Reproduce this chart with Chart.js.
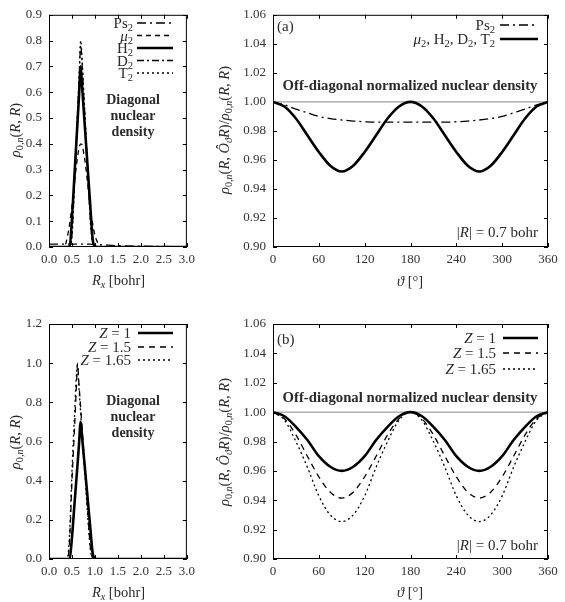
<!DOCTYPE html>
<html>
<head>
<meta charset="utf-8">
<script src="https://cdn.jsdelivr.net/npm/chart.js@4.4.0/dist/chart.umd.min.js"></script>
<style>
  body { margin: 0; background: #fff; }
  #page { position: relative; width: 565px; height: 602px; overflow: hidden; }
  #page canvas { position: absolute; }
  .txt { position: absolute; white-space: nowrap; line-height: 1; color: #2a2a2a;
         font-family: "Liberation Serif", serif; font-size: 15px; }
  .title { font-size: 14.5px; }
  .bold { font-weight: bold; text-align: center; line-height: 16px; font-size: 14px; }
  .wide { font-size: 14.75px; }
  sub { font-size: 0.7em; vertical-align: -0.3em; line-height: 0; }
</style>
</head>
<body>
<div id="page">
  <canvas id="diagA" width="200" height="300" style="left:0;top:0"></canvas>
  <canvas id="offA" width="365" height="300" style="left:200px;top:0"></canvas>
  <canvas id="diagB" width="200" height="302" style="left:0;top:300px"></canvas>
  <canvas id="offB" width="365" height="302" style="left:200px;top:300px"></canvas>
</div>
<script>
// --- diagonal density, isotopes (top left) ---
const rxA = [0, 0.1, 0.2, 0.3, 0.35, 0.4, 0.45, 0.5, 0.55, 0.6, 0.65, 0.69, 0.72, 0.75, 0.8, 0.85, 0.9, 0.95, 1.0, 1.05, 1.1, 1.2, 1.5, 2.0, 2.5, 3.0];
const diagPs2 = [0.011, 0.011, 0.011, 0.011, 0.011, 0.011, 0.011, 0.011, 0.011, 0.011, 0.011, 0.011, 0.011, 0.011, 0.011, 0.011, 0.011, 0.010, 0.010, 0.009, 0.009, 0.008, 0.005, 0.003, 0.002, 0.001];
const diagMu2 = [0, 0, 0, 0, 0.005, 0.04, 0.09, 0.16, 0.24, 0.32, 0.38, 0.40, 0.395, 0.37, 0.31, 0.23, 0.15, 0.09, 0.045, 0.02, 0.005, 0, 0, 0, 0, 0];
const diagH2 = [0, 0, 0, 0, 0, 0, 0.003, 0.11, 0.266, 0.42, 0.576, 0.70, 0.622, 0.545, 0.415, 0.285, 0.155, 0.03, 0.003, 0, 0, 0, 0, 0, 0, 0];
const diagD2 = [0, 0, 0, 0, 0, 0, 0, 0.05, 0.23, 0.43, 0.62, 0.78, 0.71, 0.61, 0.44, 0.27, 0.11, 0.02, 0, 0, 0, 0, 0, 0, 0, 0];
const diagT2 = [0, 0, 0, 0, 0, 0, 0, 0.04, 0.23, 0.44, 0.64, 0.80, 0.73, 0.62, 0.45, 0.27, 0.10, 0.015, 0, 0, 0, 0, 0, 0, 0, 0];

// --- diagonal density, charge Z (bottom left) ---
const rxB = [0, 0.1, 0.2, 0.3, 0.4, 0.45, 0.5, 0.55, 0.6, 0.62, 0.65, 0.69, 0.72, 0.75, 0.8, 0.85, 0.9, 0.95, 1.0, 1.05, 1.1, 1.5, 2.0, 2.5, 3.0];
const diagZ1 = [0, 0, 0, 0, 0, 0.003, 0.11, 0.266, 0.42, 0.48, 0.576, 0.70, 0.622, 0.545, 0.415, 0.285, 0.155, 0.03, 0.003, 0, 0, 0, 0, 0, 0];
const diagZ15 = [0, 0, 0, 0, 0, 0.10, 0.40, 0.64, 0.90, 1.00, 0.90, 0.77, 0.67, 0.57, 0.40, 0.22, 0.06, 0.005, 0, 0, 0, 0, 0, 0, 0];
const diagZ165 = [0, 0, 0, 0, 0.005, 0.14, 0.45, 0.71, 0.95, 0.99, 0.88, 0.74, 0.64, 0.54, 0.37, 0.19, 0.05, 0.003, 0, 0, 0, 0, 0, 0, 0];

// --- off-diagonal normalized density vs angle ---
const thetaDeg = [0, 15, 30, 45, 60, 75, 90, 105, 120, 135, 150, 165, 180, 195, 210, 225, 240, 255, 270, 285, 300, 315, 330, 345, 360];
const offPs2 = [1.000, 0.998, 0.995, 0.9925, 0.990, 0.9885, 0.9875, 0.9868, 0.9863, 0.986, 0.986, 0.986, 0.986, 0.986, 0.986, 0.986, 0.9863, 0.9868, 0.9875, 0.9885, 0.990, 0.9925, 0.995, 0.998, 1.000];
const offHeavy = [1.000, 0.9968, 0.9885, 0.977, 0.9655, 0.956, 0.952, 0.956, 0.9655, 0.977, 0.9885, 0.9968, 1.000, 0.9968, 0.9885, 0.977, 0.9655, 0.956, 0.952, 0.956, 0.9655, 0.977, 0.9885, 0.9968, 1.000];
const offZ1 = [1.000, 0.9972, 0.990, 0.981, 0.970, 0.9628, 0.960, 0.9628, 0.970, 0.981, 0.990, 0.9972, 1.000, 0.9972, 0.990, 0.981, 0.970, 0.9628, 0.960, 0.9628, 0.970, 0.981, 0.990, 0.9972, 1.000];
const offZ15 = [1.000, 0.9955, 0.9845, 0.970, 0.956, 0.9455, 0.9415, 0.9455, 0.956, 0.970, 0.9845, 0.9955, 1.000, 0.9955, 0.9845, 0.970, 0.956, 0.9455, 0.9415, 0.9455, 0.956, 0.970, 0.9845, 0.9955, 1.000];
const offZ165 = [1.000, 0.9945, 0.980, 0.9625, 0.943, 0.930, 0.9255, 0.930, 0.943, 0.9625, 0.980, 0.9945, 1.000, 0.9945, 0.980, 0.9625, 0.943, 0.930, 0.9255, 0.930, 0.943, 0.9625, 0.980, 0.9945, 1.000];
const refTheta = [0, 360];
const refOne = [1, 1];

// tick labels
const xTicksR = [0, 0.5, 1.0, 1.5, 2.0, 2.5, 3.0];
const yTicksDiagA = [0, 0.1, 0.2, 0.3, 0.4, 0.5, 0.6, 0.7, 0.8, 0.9];
const yTicksDiagB = [0, 0.2, 0.4, 0.6, 0.8, 1.0, 1.2];
const xTicksTheta = [0, 60, 120, 180, 240, 300, 360];
const yTicksOff = [0.90, 0.92, 0.94, 0.96, 0.98, 1.00, 1.02, 1.04, 1.06];

const FONT = "'Liberation Serif', serif";

function pts(xs, ys) {
  return xs.map((x, i) => ({ x: x, y: ys[i] }));
}

function line(xs, ys, width, dash, color) {
  return {
    data: pts(xs, ys),
    borderColor: color || '#000',
    borderWidth: width,
    borderDash: dash || [],
    pointRadius: 0,
    fill: false,
    cubicInterpolationMode: 'monotone'
  };
}

// frame, inward ticks and legend line samples
const panelDeco = {
  id: 'panelDeco',
  afterDatasetsDraw(chart, args, opts) {
    const { ctx, chartArea: a, scales } = chart;
    ctx.save();
    ctx.strokeStyle = '#000';
    ctx.lineWidth = 1;
    ctx.setLineDash([]);
    ctx.strokeRect(a.left + 0.5, a.top + 0.5, a.right - a.left - 1, a.bottom - a.top - 1);
    ctx.beginPath();
    scales.y.ticks.forEach(t => {
      const y = Math.round(scales.y.getPixelForValue(t.value)) + 0.5;
      ctx.moveTo(a.left, y); ctx.lineTo(a.left + 4, y);
      ctx.moveTo(a.right, y); ctx.lineTo(a.right - 4, y);
    });
    scales.x.ticks.forEach(t => {
      const x = Math.round(scales.x.getPixelForValue(t.value)) + 0.5;
      ctx.moveTo(x, a.bottom); ctx.lineTo(x, a.bottom - 4);
      ctx.moveTo(x, a.top); ctx.lineTo(x, a.top + 4);
    });
    ctx.stroke();

    (opts.samples || []).forEach(s => {
      const ds = chart.data.datasets[s.index];
      ctx.strokeStyle = ds.borderColor;
      ctx.lineWidth = ds.borderWidth;
      ctx.setLineDash(ds.borderDash || []);
      ctx.beginPath();
      ctx.moveTo(s.x0, s.y);
      ctx.lineTo(s.x1, s.y);
      ctx.stroke();
    });
    ctx.restore();
  }
};

function makePanel(id, datasets, p) {
  new Chart(document.getElementById(id), {
    type: 'line',
    data: { datasets: datasets },
    plugins: [panelDeco],
    options: {
      responsive: false,
      animation: false,
      layout: { padding: { top: p.top, right: p.right, left: 0, bottom: 0 } },
      plugins: {
        legend: { display: false },
        tooltip: { enabled: false },
        panelDeco: { samples: p.samples }
      },
      scales: {
        x: {
          type: 'linear',
          min: p.xTicks[0],
          max: p.xTicks[p.xTicks.length - 1],
          afterBuildTicks: s => { s.ticks = p.xTicks.map(v => ({ value: v })); },
          afterFit: s => { s.height = p.xHeight; },
          grid: { display: false, drawTicks: false },
          border: { display: false },
          ticks: {
            padding: 5,
            color: '#333',
            font: { family: FONT, size: 13 },
            maxRotation: 0,
            callback: v => v.toFixed(p.xDigits)
          }
        },
        y: {
          type: 'linear',
          min: p.yTicks[0],
          max: p.yTicks[p.yTicks.length - 1],
          afterBuildTicks: s => { s.ticks = p.yTicks.map(v => ({ value: v })); },
          afterFit: s => { s.width = p.yWidth; },
          grid: { display: false, drawTicks: false },
          border: { display: false },
          ticks: {
            padding: 7,
            color: '#333',
            font: { family: FONT, size: 13 },
            callback: v => v.toFixed(p.yDigits)
          }
        }
      }
    }
  });
}

makePanel('diagA', [
  line(rxA, diagH2, 2.6),
  line(rxA, diagPs2, 1.3, [9, 4, 2, 4]),
  line(rxA, diagMu2, 1.3, [5, 4]),
  line(rxA, diagD2, 1.3, [7, 3, 2, 3]),
  line(rxA, diagT2, 1.3, [2, 3])
], {
  top: 12, right: 12, yWidth: 49, xHeight: 53,
  xTicks: xTicksR, yTicks: yTicksDiagA, xDigits: 1, yDigits: 1,
  samples: [
    { index: 1, x0: 137, x1: 173, y: 23 },
    { index: 2, x0: 137, x1: 173, y: 35.5 },
    { index: 0, x0: 137, x1: 173, y: 48 },
    { index: 3, x0: 137, x1: 173, y: 60.5 },
    { index: 4, x0: 137, x1: 173, y: 73 }
  ]
});

makePanel('offA', [
  line(thetaDeg, offHeavy, 2.6),
  line(thetaDeg, offPs2, 1.3, [9, 4, 2, 4]),
  line(refTheta, refOne, 1, [], '#888')
], {
  top: 12, right: 17, yWidth: 73, xHeight: 53,
  xTicks: xTicksTheta, yTicks: yTicksOff, xDigits: 0, yDigits: 2,
  samples: [
    { index: 1, x0: 300, x1: 338, y: 25 },
    { index: 0, x0: 300, x1: 338, y: 39 }
  ]
});

makePanel('diagB', [
  line(rxB, diagZ1, 2.6),
  line(rxB, diagZ15, 1.3, [6, 5]),
  line(rxB, diagZ165, 1.3, [2, 3])
], {
  top: 24, right: 12, yWidth: 49, xHeight: 43,
  xTicks: xTicksR, yTicks: yTicksDiagB, xDigits: 1, yDigits: 1,
  samples: [
    { index: 0, x0: 138, x1: 173, y: 33 },
    { index: 1, x0: 138, x1: 173, y: 47 },
    { index: 2, x0: 138, x1: 173, y: 60 }
  ]
});

makePanel('offB', [
  line(thetaDeg, offZ1, 2.6),
  line(thetaDeg, offZ15, 1.3, [6, 5]),
  line(thetaDeg, offZ165, 1.3, [2, 3]),
  line(refTheta, refOne, 1, [], '#888')
], {
  top: 24, right: 17, yWidth: 73, xHeight: 43,
  xTicks: xTicksTheta, yTicks: yTicksOff, xDigits: 0, yDigits: 2,
  samples: [
    { index: 0, x0: 303, x1: 338, y: 38 },
    { index: 1, x0: 303, x1: 338, y: 53 },
    { index: 2, x0: 303, x1: 338, y: 69 }
  ]
});

// text overlays
function addText(html, x, y, opts = {}) {
  const el = document.createElement('div');
  el.className = 'txt' + (opts.cls ? ' ' + opts.cls : '');
  el.innerHTML = html;
  const ax = opts.align === 'right' ? '-100%' : opts.align === 'left' ? '0' : '-50%';
  el.style.left = x + 'px';
  el.style.top = y + 'px';
  el.style.transform = 'translate(' + ax + ', -50%)' + (opts.rotate ? ' rotate(-90deg)' : '');
  document.getElementById('page').appendChild(el);
}

const rhoDiag = '<i>ρ</i><sub>0,<i>n</i></sub>(<i>R</i>, <i>R</i>)';
const rhoOff = '<i>ρ</i><sub>0,<i>n</i></sub>(<i>R</i>, <i>Ô</i><sub><i>ϑ</i></sub><i>R</i>)/' + rhoDiag;
const diagNote = 'Diagonal<br>nuclear<br>density';
const offNote = 'Off-diagonal normalized nuclear density';
const rNote = '|<i>R</i>| = 0.7 bohr';

// top left
addText(rhoDiag, 15, 130, { cls: 'title', rotate: true });
addText('<i>R<sub>x</sub></i> [bohr]', 118.5, 280, { cls: 'title' });
addText('Ps<sub>2</sub>', 133, 23, { align: 'right' });
addText('<i>μ</i><sub>2</sub>', 133, 35.5, { align: 'right' });
addText('H<sub>2</sub>', 133, 48, { align: 'right' });
addText('D<sub>2</sub>', 133, 60.5, { align: 'right' });
addText('T<sub>2</sub>', 133, 73, { align: 'right' });
addText(diagNote, 133, 116, { cls: 'bold' });

// top right
addText(rhoOff, 224, 129.5, { cls: 'title', rotate: true });
addText('<i>ϑ</i> [°]', 410, 281, { cls: 'title' });
addText('(a)', 277, 26, { align: 'left' });
addText('Ps<sub>2</sub>', 495, 25, { align: 'right' });
addText('<i>μ</i><sub>2</sub>, H<sub>2</sub>, D<sub>2</sub>, T<sub>2</sub>', 495, 39, { align: 'right' });
addText(offNote, 410, 85, { cls: 'bold wide' });
addText(rNote, 538, 232, { align: 'right' });

// bottom left
addText(rhoDiag, 15, 441.5, { cls: 'title', rotate: true });
addText('<i>R<sub>x</sub></i> [bohr]', 118.5, 592, { cls: 'title' });
addText('<i>Z</i> = 1', 131, 333, { align: 'right' });
addText('<i>Z</i> = 1.5', 131, 347, { align: 'right' });
addText('<i>Z</i> = 1.65', 131, 360, { align: 'right' });
addText(diagNote, 133, 417, { cls: 'bold' });

// bottom right
addText(rhoOff, 224, 441.5, { cls: 'title', rotate: true });
addText('<i>ϑ</i> [°]', 410, 592, { cls: 'title' });
addText('(b)', 277, 339, { align: 'left' });
addText('<i>Z</i> = 1', 496, 338, { align: 'right' });
addText('<i>Z</i> = 1.5', 496, 353, { align: 'right' });
addText('<i>Z</i> = 1.65', 496, 369, { align: 'right' });
addText(offNote, 410, 397, { cls: 'bold wide' });
addText(rNote, 538, 545, { align: 'right' });
</script>
</body>
</html>
